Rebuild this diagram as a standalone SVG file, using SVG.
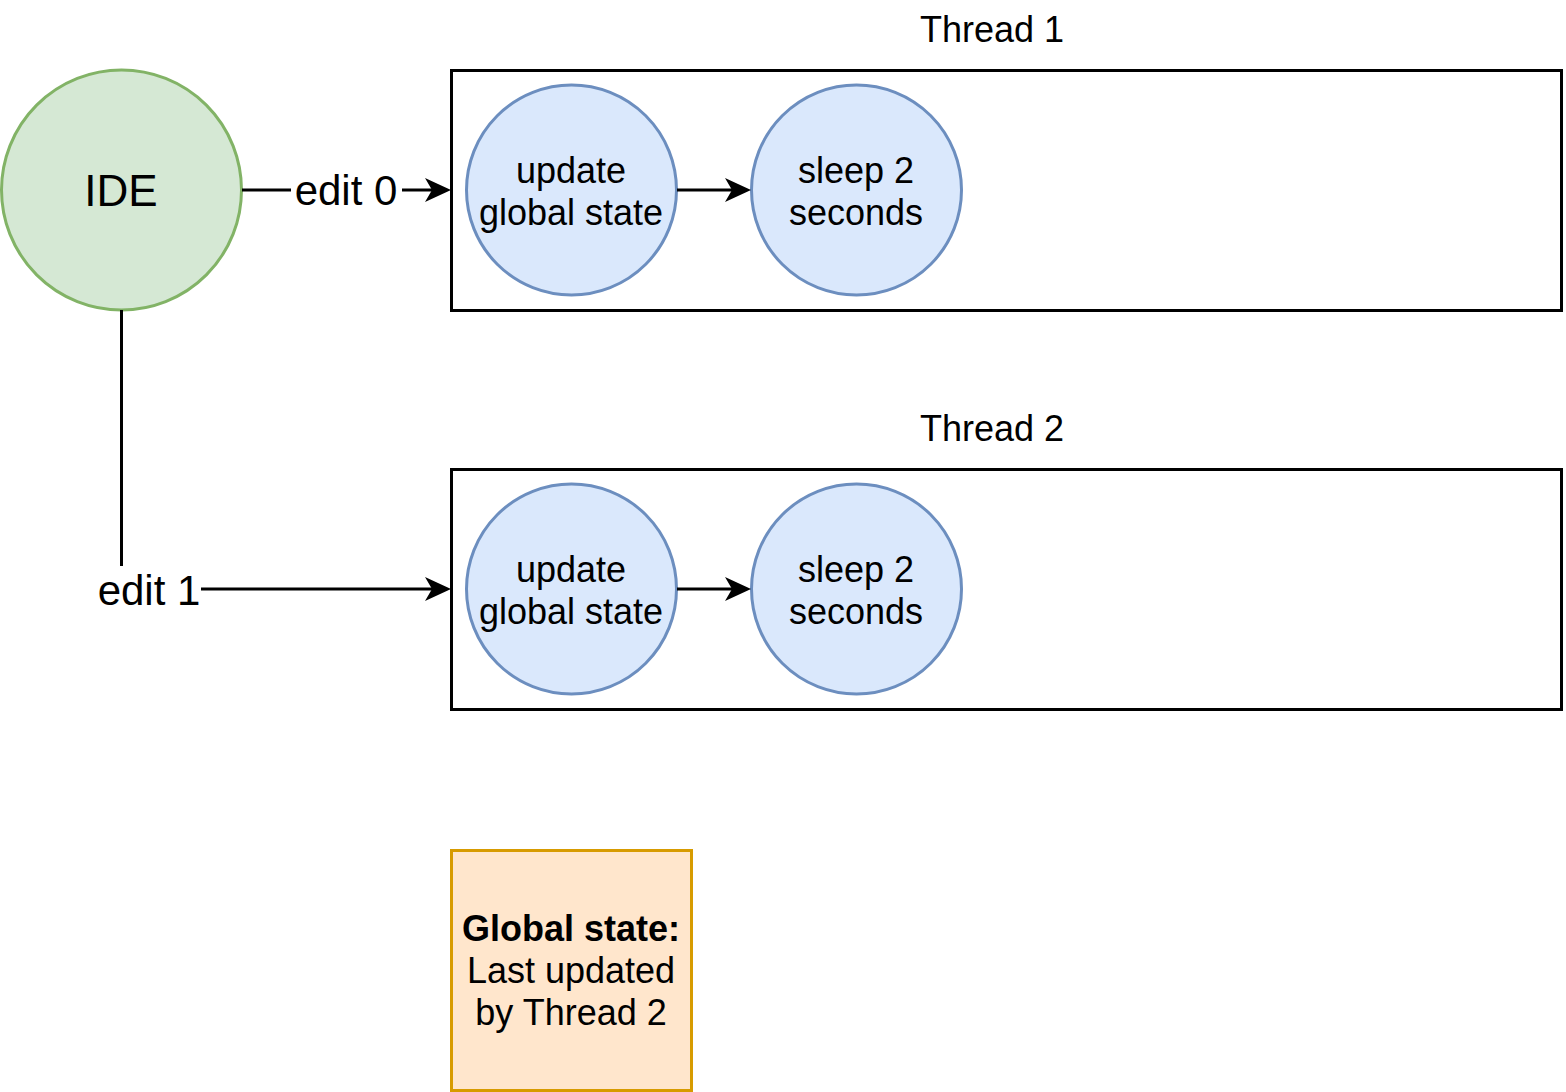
<svg xmlns="http://www.w3.org/2000/svg" width="1566" height="1092" viewBox="0 0 1566 1092">
<style>
text{font-family:"Liberation Sans",Arial,Helvetica,sans-serif;fill:#000;text-anchor:middle}
.c36{font-size:36px}
.lbl{font-size:42px}
.blue{fill:#dae8fc;stroke:#6c8ebf;stroke-width:3}
.box{fill:#fff;stroke:#000;stroke-width:3}
.edge{fill:none;stroke:#000;stroke-width:3}
</style>
<defs>
<marker id="arr" markerUnits="userSpaceOnUse" markerWidth="30" markerHeight="30" viewBox="0 0 30 30" refX="17" refY="15" orient="auto">
<path d="M1,3 L27,15 L1,27 L8,15 Z" fill="#000"/>
</marker>
</defs>
<rect width="1566" height="1092" fill="#fff"/>
<g id="thread1">
<rect class="box" x="451.5" y="70.5" width="1110" height="240"/>
<text class="c36" x="992" y="42">Thread 1</text>
</g>
<g id="thread2">
<rect class="box" x="451.5" y="469.5" width="1110" height="240"/>
<text class="c36" x="992" y="441">Thread 2</text>
</g>
<g id="ide">
<circle cx="121.5" cy="190" r="120" fill="#d5e8d4" stroke="#82b366" stroke-width="3"/>
<text x="121" y="206" style="font-size:44px">IDE</text>
</g>
<g id="update1">
<circle class="blue" cx="571.5" cy="190" r="105"/>
<text class="c36" x="571" y="183">update</text>
<text class="c36" x="571" y="225">global state</text>
</g>
<g id="sleep1">
<circle class="blue" cx="856.5" cy="190" r="105"/>
<text class="c36" x="856" y="183">sleep 2</text>
<text class="c36" x="856" y="225">seconds</text>
</g>
<g id="update2">
<circle class="blue" cx="571.5" cy="589" r="105"/>
<text class="c36" x="571" y="582">update</text>
<text class="c36" x="571" y="624">global state</text>
</g>
<g id="sleep2">
<circle class="blue" cx="856.5" cy="589" r="105"/>
<text class="c36" x="856" y="582">sleep 2</text>
<text class="c36" x="856" y="624">seconds</text>
</g>
<g id="global">
<rect x="451.5" y="850.5" width="240" height="240" fill="#ffe6cc" stroke="#d79b00" stroke-width="3"/>
<text class="c36" x="571" y="941" font-weight="bold">Global state:</text>
<text class="c36" x="571" y="983">Last updated</text>
<text class="c36" x="571" y="1025">by Thread 2</text>
</g>
<g id="connectors">
<line class="edge" x1="242" y1="190" x2="291" y2="190"/>
<line class="edge" x1="402" y1="190" x2="441" y2="190" marker-end="url(#arr)"/>
<text class="lbl" x="346" y="205">edit 0</text>
<line class="edge" x1="121.5" y1="310" x2="121.5" y2="566"/>
<line class="edge" x1="201" y1="589" x2="441" y2="589" marker-end="url(#arr)"/>
<text class="lbl" x="149" y="605">edit 1</text>
<line class="edge" x1="677" y1="190" x2="741" y2="190" marker-end="url(#arr)"/>
<line class="edge" x1="677" y1="589" x2="741" y2="589" marker-end="url(#arr)"/>
</g>
</svg>
